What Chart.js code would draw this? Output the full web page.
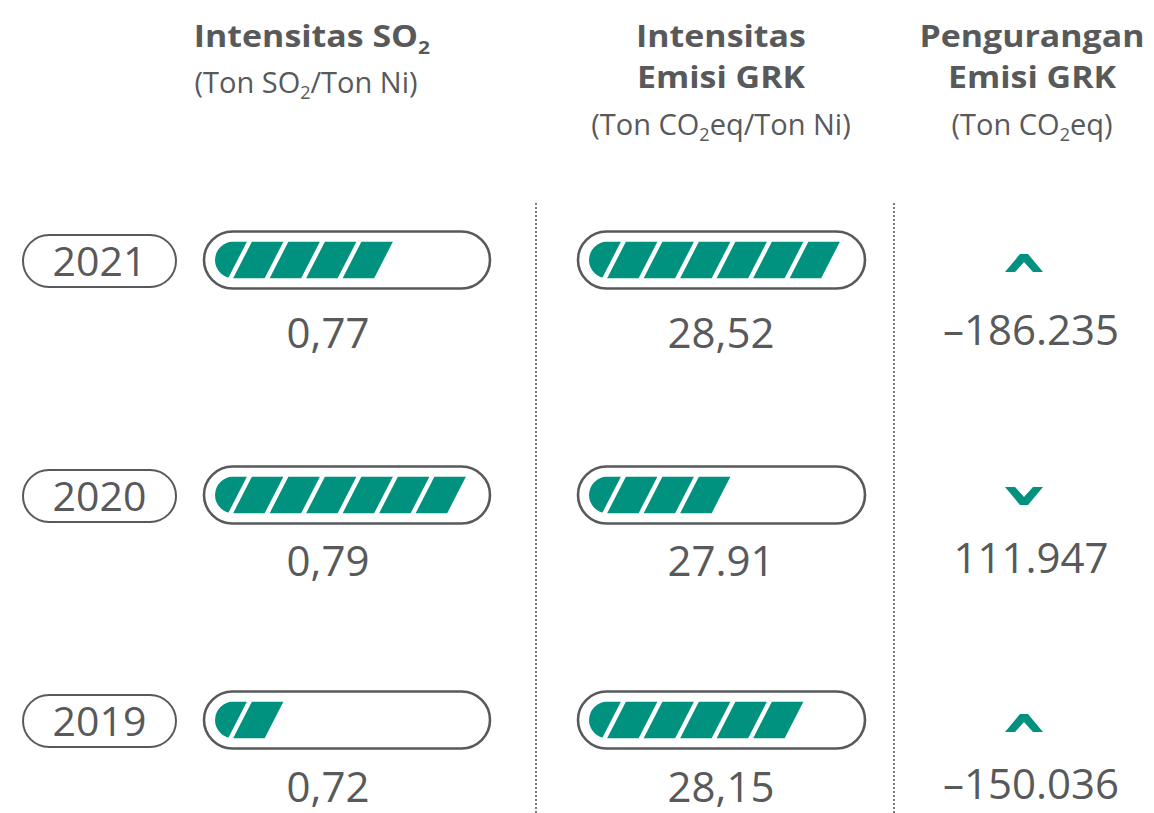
<!DOCTYPE html>
<html><head><meta charset="utf-8">
<script src="https://cdn.jsdelivr.net/npm/chart.js@4/dist/chart.umd.min.js"></script>
<style>
html,body{margin:0;padding:0;background:#fff;}
body{width:1154px;height:813px;position:relative;overflow:hidden;font-family:"Open Sans",sans-serif;color:#58595b;}
.abs{position:absolute;white-space:nowrap;}
.hdr{font-weight:700;font-size:30px;line-height:41px;text-align:center;transform:scaleX(1.13);transform-origin:50% 50%;}
.sub{font-size:29px;line-height:34px;text-align:center;}
.s2{font-size:0.62em;position:relative;top:0.35em;line-height:0;}
.val{font-size:42px;line-height:50px;text-align:center;}
.pill{position:absolute;box-sizing:border-box;border:2px solid #58595b;border-radius:28px;display:flex;align-items:center;justify-content:center;font-size:41px;line-height:41px;}
.dots{position:absolute;width:0;border-left:2px dotted #7a7b7e;}
canvas{position:absolute;}
</style>
</head>
<body>
<div id="root"></div>
<script>
// ---- data ----
const years = ['2021', '2020', '2019'];
const so2Values = [0.77, 0.79, 0.72];
const so2Labels = ['0,77', '0,79', '0,72'];
const so2Segments = [5, 7, 2];
const grkValues = [28.52, 27.91, 28.15];
const grkLabels = ['28,52', '27.91', '28,15'];
const grkSegments = [7, 4, 6];
const reductionValues = [-186235, 111947, -150036];
const reductionLabels = ['–186.235', '111.947', '–150.036'];

// ---- layout ----
const TEAL = '#00917f';
const GRAY = '#58595b';
const rowCenters = [259.5, 494.5, 719.5];
const valueTops = [307, 535, 761];
const P = 36.5, S = 19, G = 5, BAR_H = 37;
const root = document.getElementById('root');

function addDiv(cls, html, left, top, width) {
  const d = document.createElement('div');
  d.className = 'abs ' + cls;
  d.innerHTML = html;
  d.style.left = left + 'px';
  d.style.top = top + 'px';
  if (width) d.style.width = width + 'px';
  root.appendChild(d);
  return d;
}

// headers (baseline = top + 20.5 + 0.388*30)
addDiv('hdr', 'Intensitas SO<span class="s2">2</span>', 112, 15, 400);
addDiv('sub', '(Ton SO<span class="s2">2</span>/Ton Ni)', 106, 65, 400);
addDiv('hdr', 'Intensitas<br>Emisi GRK', 521, 15, 400);
addDiv('sub', '(Ton CO<span class="s2">2</span>eq/Ton Ni)', 521, 107, 400);
addDiv('hdr', 'Pengurangan<br>Emisi GRK', 832, 15, 400);
addDiv('sub', '(Ton CO<span class="s2">2</span>eq)', 832, 107, 400);

// dotted separators
[535, 893].forEach(x => {
  const d = document.createElement('div');
  d.className = 'dots';
  d.style.left = x + 'px'; d.style.top = '203px'; d.style.height = '610px';
  root.appendChild(d);
});

// stripe plugin
const stripePlugin = {
  id: 'stripes',
  afterDatasetsDraw(chart) {
    const ctx = chart.ctx;
    const a = chart.chartArea;
    const el = chart.getDatasetMeta(0).data[0];
    const xs = chart.scales.x;
    const top = el.y - el.height / 2, bot = el.y + el.height / 2, r = el.height / 2;
    ctx.save();
    // outer track outline
    const oy0 = el.y - 28.5, oy1 = el.y + 28.5, ox0 = a.left + 3, ox1 = a.right - 3, orr = 28.5;
    ctx.beginPath();
    ctx.moveTo(ox0 + orr, oy0);
    ctx.lineTo(ox1 - orr, oy0);
    ctx.arc(ox1 - orr, el.y, orr, -Math.PI / 2, Math.PI / 2);
    ctx.lineTo(ox0 + orr, oy1);
    ctx.arc(ox0 + orr, el.y, orr, Math.PI / 2, Math.PI * 1.5);
    ctx.closePath();
    ctx.lineWidth = 2.6;
    ctx.strokeStyle = GRAY;
    ctx.stroke();
    // clip with rounded left end
    const x0 = el.base + 4.5;
    ctx.beginPath();
    ctx.moveTo(x0 + r, top);
    ctx.lineTo(a.right, top);
    ctx.lineTo(a.right, bot);
    ctx.lineTo(x0 + r, bot);
    ctx.arc(x0 + r, el.y, r, Math.PI / 2, Math.PI * 1.5);
    ctx.closePath();
    ctx.clip();
    const n = chart.data.datasets[0].data[0];
    ctx.fillStyle = TEAL;
    for (let k = 1; k <= n; k++) {
      const tr = xs.getPixelForValue(k);
      const tl = xs.getPixelForValue(k - 1) + G;
      ctx.beginPath();
      ctx.moveTo(tl, top);
      ctx.lineTo(tr, top);
      ctx.lineTo(tr - S, bot);
      ctx.lineTo(tl - S, bot);
      ctx.closePath();
      ctx.fill();
    }
    ctx.restore();
  }
};

function makeBar(pillLeft, pillRight, centerY, year, n) {
  const c = document.createElement('canvas');
  const w = pillRight - pillLeft + 6, h = 64;
  c.width = w; c.height = h;
  c.style.left = (pillLeft - 3) + 'px';
  c.style.top = (centerY - h / 2) + 'px';
  c.style.width = w + 'px'; c.style.height = h + 'px';
  root.appendChild(c);
  const min = -9.5 / P;
  new Chart(c, {
    type: 'bar',
    data: { labels: [year], datasets: [{ data: [n], backgroundColor: 'rgba(0,0,0,0)', borderWidth: 0, barThickness: BAR_H }] },
    options: {
      indexAxis: 'y', responsive: false, animation: false, devicePixelRatio: 1,
      layout: { padding: 0 },
      plugins: { legend: { display: false }, tooltip: { enabled: false } },
      scales: {
        x: { type: 'linear', min: min, max: min + w / P, display: false },
        y: { display: false }
      }
    },
    plugins: [stripePlugin]
  });
}

function chevron(up, left, top) {
  const pts = up
    ? '0,18 15,0 23,0 38,18 28,18 19,8 10,18'
    : '0,0 10,0 19,10 28,0 38,0 23,18 15,18';
  const d = document.createElement('div');
  d.className = 'abs';
  d.style.left = left + 'px'; d.style.top = top + 'px';
  d.innerHTML = '<svg width="38" height="18" viewBox="0 0 38 18"><polygon points="' + pts + '" fill="' + TEAL + '"/></svg>';
  root.appendChild(d);
}

years.forEach((y, i) => {
  const cy = rowCenters[i];
  // year pill
  const p = document.createElement('div');
  p.className = 'pill';
  p.textContent = y;
  p.style.left = '22px'; p.style.width = '155px';
  p.style.top = (cy - 26) + 'px'; p.style.height = '54px';
  root.appendChild(p);
  makeBar(204, 490, cy, y, so2Segments[i]);
  makeBar(578, 865, cy, y, grkSegments[i]);
  addDiv('val', so2Labels[i], 228, valueTops[i], 200);
  addDiv('val', grkLabels[i], 621, valueTops[i], 200);
  addDiv('val', reductionLabels[i], 931, valueTops[i] - 3, 200);
  chevron(reductionValues[i] < 0, 1005, cy + (reductionValues[i] < 0 ? -5.5 : -7.5));
});
</script>
</body></html>
